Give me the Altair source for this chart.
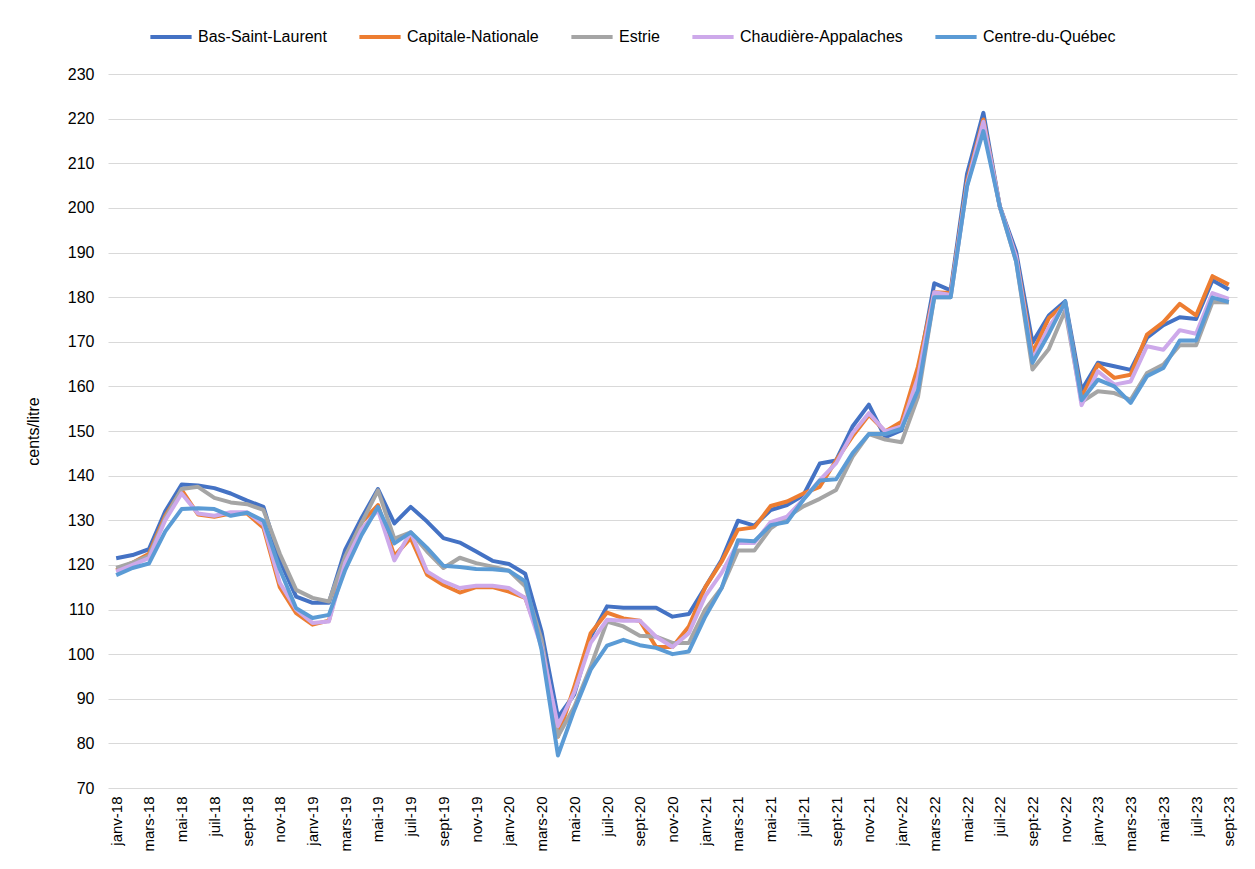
import altair as alt
import pandas as pd

MONTHS = ["janv", "févr", "mars", "avr", "mai", "juin", "juil", "août", "sept", "oct", "nov", "déc"]
months = [f"{MONTHS[m]}-{y}" for y in range(18, 24) for m in range(12)][:69]

regions = ["Bas-Saint-Laurent", "Capitale-Nationale", "Estrie", "Chaudière-Appalaches", "Centre-du-Québec"]
colors = ["#4472C4", "#ED7D31", "#A5A5A5", "#CDA9EA", "#5B9BD5"]

bas_saint_laurent = [
    121.5, 122.2, 123.5, 132.0, 138.0, 137.8, 137.2, 136.0, 134.4, 133.0, 121.0, 112.9,
    111.5, 111.5, 123.4, 130.5, 137.0, 129.3, 133.0, 129.7, 126.0, 125.0, 123.0, 120.9,
    120.2, 118.0, 105.0, 85.8, 91.0, 103.9, 110.7, 110.4, 110.4, 110.4, 108.4, 109.0,
    115.0, 121.1, 129.9, 128.8, 132.3, 133.4, 135.6, 142.7, 143.4, 151.0, 155.9, 148.6,
    150.2, 163.0, 183.1, 181.5, 207.6, 221.3, 200.4, 190.2, 169.8, 175.9, 179.1, 159.1,
    165.3, 164.5, 163.7, 170.9, 173.7, 175.5, 175.1, 183.8, 181.7,
]
capitale_nationale = [
    118.8, 120.5, 122.5, 131.0, 136.8, 131.3, 130.8, 131.5, 131.5, 128.3, 115.0, 109.2,
    106.6, 107.5, 121.5, 129.5, 133.4, 122.0, 126.0, 117.8, 115.5, 113.8, 115.0, 115.0,
    114.0, 112.6, 102.5, 81.5, 92.7, 104.7, 109.3, 108.0, 107.5, 101.6, 101.6, 106.2,
    115.0, 120.7, 127.9, 128.4, 133.2, 134.2, 136.0, 137.5, 143.4, 148.8, 153.6, 149.9,
    152.1, 164.4, 181.1, 180.9, 205.9, 219.8, 200.4, 189.0, 167.5, 175.3, 178.5, 157.5,
    164.9, 161.9, 162.6, 171.6, 174.4, 178.5, 175.9, 184.7, 182.8,
]
estrie = [
    119.3, 120.5, 122.0, 130.5, 137.0, 137.5, 135.0, 134.0, 133.6, 132.3, 122.5, 114.4,
    112.6, 111.8, 121.9, 129.4, 136.7, 125.9, 127.3, 123.0, 119.3, 121.6, 120.4, 119.6,
    118.7, 115.2, 103.2, 81.6, 88.2, 97.2, 107.3, 106.2, 104.1, 103.9, 102.5, 102.5,
    110.0, 114.8, 123.2, 123.2, 128.2, 130.7, 133.1, 134.8, 136.8, 144.2, 149.3, 148.1,
    147.5, 157.6, 180.0, 180.0, 205.0, 218.7, 200.2, 188.0, 163.8, 168.4, 177.0, 156.5,
    158.9, 158.5, 157.0, 163.0, 164.9, 169.2, 169.2, 178.9, 178.8,
]
chaudiere_appalaches = [
    118.5, 120.0, 121.5, 130.0, 136.0, 131.5, 131.0, 131.8, 131.8, 129.0, 116.0, 110.0,
    107.0, 107.3, 120.5, 128.0, 132.3, 121.0, 127.3, 118.5, 116.3, 114.8, 115.3, 115.3,
    114.8, 112.6, 101.5, 83.9, 91.5, 102.5, 107.7, 107.5, 107.5, 103.9, 101.6, 104.7,
    113.0, 118.2, 124.9, 124.9, 129.6, 130.8, 134.7, 139.0, 142.8, 149.5, 154.0, 149.9,
    151.0, 162.0, 181.1, 180.5, 205.2, 219.3, 200.4, 189.0, 166.0, 173.3, 178.5, 155.8,
    163.4, 160.4, 161.1, 169.0, 168.2, 172.6, 171.8, 180.9, 179.6,
]
centre_du_quebec = [
    117.7, 119.3, 120.3, 127.5, 132.5, 132.7, 132.5, 131.0, 131.7, 129.9, 119.0, 110.3,
    108.1, 108.8, 118.9, 126.7, 133.0, 124.8, 127.3, 123.8, 119.8, 119.5, 119.1, 119.0,
    118.7, 116.3, 100.9, 77.3, 87.5, 96.5, 101.9, 103.2, 102.0, 101.4, 100.0, 100.6,
    108.4, 114.8, 125.5, 125.3, 128.9, 129.6, 134.6, 138.9, 139.2, 145.0, 149.3, 149.3,
    150.5, 159.1, 180.0, 180.0, 204.8, 217.2, 200.4, 188.0, 165.3, 171.8, 179.0, 156.9,
    161.5, 160.0, 156.3, 162.3, 164.1, 170.3, 170.3, 179.9, 178.9,
]

series = [bas_saint_laurent, capitale_nationale, estrie, chaudiere_appalaches, centre_du_quebec]
rows = []
for name, vals in zip(regions, series):
    for m, v in zip(months, vals):
        rows.append({"mois": m, "region": name, "prix": v})
df = pd.DataFrame(rows)

tick_labels = months[::2]
FONT = "Liberation Sans"

base = alt.Chart(df).mark_line(strokeWidth=4, strokeJoin="round").encode(
    x=alt.X("mois:N", sort=months,
            axis=alt.Axis(values=tick_labels, labelAngle=270, title=None, ticks=False,
                          domain=False, grid=False, labelFontSize=15, labelPadding=8,
                          labelColor="#000000", labelFont=FONT)),
    y=alt.Y("prix:Q", scale=alt.Scale(domain=[70, 230], nice=False, zero=False),
            axis=alt.Axis(values=list(range(70, 231, 10)), title="cents/litre",
                          titleFontSize=16, titleFont=FONT, titleFontWeight="normal",
                          titleColor="#000000", titlePadding=26,
                          labelFontSize=16, labelFont=FONT, labelColor="#000000",
                          labelPadding=14, ticks=False, domain=False,
                          gridColor="#D9D9D9", gridWidth=1)),
    color=alt.Color("region:N", scale=alt.Scale(domain=regions, range=colors),
                    legend=alt.Legend(title=None, orient="none", direction="horizontal",
                                      legendX=40, legendY=-60, symbolType="stroke",
                                      symbolStrokeWidth=4, symbolSize=1700,
                                      labelFontSize=16, labelFont=FONT, labelColor="#000000",
                                      labelLimit=0, columnPadding=24, labelOffset=4)),
)

layers = [base.transform_filter(alt.datum.region == r) for r in regions]

chart = alt.layer(*layers).properties(
    width=1129, height=714,
    autosize=alt.AutoSizeParams(type="none"),
    padding={"left": 100, "top": 66, "right": 10, "bottom": 70},
).configure_view(stroke=None)

chart.save("out.html", embed_options={"renderer": "svg", "actions": False})
